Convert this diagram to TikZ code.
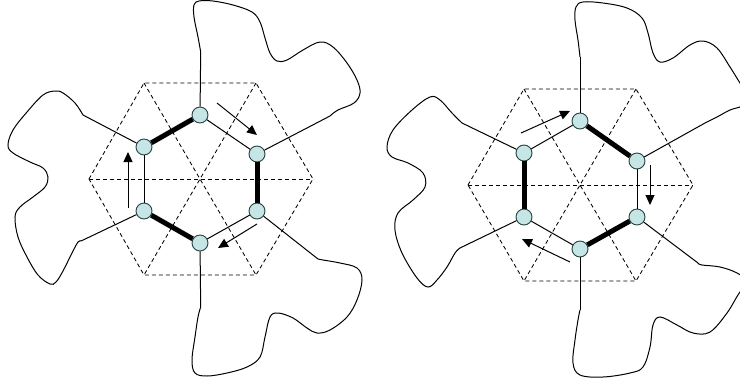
\documentclass[tikz,border=0pt]{standalone}
\usetikzlibrary{arrows.meta}
\definecolor{nodefill}{RGB}{198,230,230}
\definecolor{nodeline}{RGB}{40,65,65}
\begin{document}
\begin{tikzpicture}[x=1pt,y=-1pt,
  site/.style={circle,draw=nodeline,fill=nodefill,line width=0.9pt,minimum size=16pt,inner sep=0pt},
  lattice/.style={line width=0.85pt,dash pattern=on 4pt off 3pt},
  bond/.style={line width=1pt},
  strong/.style={line width=5pt},
  spoke/.style={line width=1pt},
  lobe/.style={line width=1pt},
  move/.style={line width=1pt,-{Triangle[length=10pt,width=9pt]}}]
\useasboundingbox (0,0) rectangle (740,384);
\clip (0,0) rectangle (740,384);

% ---------------- left figure ----------------
\draw[lattice] (89,179) -- (144,83) -- (256,83) -- (313,179) -- (256,275) -- (144,275) -- cycle;
\draw[lattice] (89,179) -- (313,179);
\draw[lattice] (144,83) -- (256,275);
\draw[lattice] (256,83) -- (144,275);

\node[site] (Ltop) at (200,115) {};
\node[site] (Lul)  at (144,147) {};
\node[site] (Lur)  at (257,154) {};
\node[site] (Llr)  at (257,211) {};
\node[site] (Lll)  at (144,211) {};
\node[site] (Lbot) at (200,243) {};

\coordinate (Lst) at (200.7,52);
\coordinate (Lsul) at (83,115);
\coordinate (Lsll) at (81,241);
\coordinate (Lsbot) at (200.7,307);
\coordinate (Lsur) at (330,116);
\coordinate (Lslr) at (318,259);

\draw[spoke] (Ltop) -- (Lst);
\draw[spoke] (Lul) -- (Lsul);
\draw[spoke] (Lll) -- (Lsll);
\draw[spoke] (Lbot) -- (Lsbot);
\draw[spoke] (Lur) -- (Lsur);
\draw[spoke] (Llr) -- (Lslr);

\draw[lobe] plot[smooth,tension=0.6] coordinates {(200.7,52) (198,37) (194,17) (194,5) (199,1) (213,1) (233,5) (252,12) (260,22) (265,38) (270,53) (277,61) (287,60) (303,50) (320,42) (333,47) (347,63) (357,80) (360,93) (354,103) (338,110) (330,116)};
\draw[lobe] plot[smooth,tension=0.6] coordinates {(318,259) (323,260) (340,263) (357,268) (362,280) (357,300) (347,317) (330,330) (317,333) (307,328) (293,318) (278,313) (270,317) (265,337) (260,357) (247,367) (227,373) (207,376) (195,373) (192,360) (195,337) (198,317) (200.7,307)};
\draw[lobe] plot[smooth,tension=0.6] coordinates {(83,115) (75,103) (63,93) (55,91) (43,95) (27,112) (13,130) (8,145) (13,153) (30,162) (43,168) (48,177) (45,187) (33,197) (20,207) (15,217) (18,237) (27,257) (38,275) (50,284) (56,282) (63,271) (72,253) (78,242) (81,241)};

\draw[strong] (Ltop) -- (Lul);
\draw[strong] (Lur) -- (Llr);
\draw[strong] (Lll) -- (Lbot);
\draw[bond] (Ltop) -- (Lur);
\draw[bond] (Llr) -- (Lbot);
\draw[bond] (Lll) -- (Lul);

\coordinate (La1) at (217,103); \coordinate (La2) at (257,135);
\coordinate (Lb1) at (128,208); \coordinate (Lb2) at (128,152);
\coordinate (Lc1) at (257,224); \coordinate (Lc2) at (218,248);
\draw[move] (La1) -- (La2);
\draw[move] (Lb1) -- (Lb2);
\draw[move] (Lc1) -- (Lc2);

% ---------------- right figure ----------------
\draw[lattice] (468,185) -- (524,89) -- (636,89) -- (693,185) -- (636,281) -- (524,281) -- cycle;
\draw[lattice] (468,185) -- (693,185);
\draw[lattice] (524,89) -- (636,281);
\draw[lattice] (636,89) -- (524,281);

\node[site] (Rtop) at (580,121) {};
\node[site] (Rul)  at (524,153) {};
\node[site] (Rur)  at (637,161) {};
\node[site] (Rlr)  at (637,217) {};
\node[site] (Rll)  at (524,217) {};
\node[site] (Rbot) at (580,249) {};

\coordinate (Rst) at (580,57);
\coordinate (Rsul) at (462,123);
\coordinate (Rsll) at (460,248);
\coordinate (Rsbot) at (580,310);
\coordinate (Rsur) at (705,123);
\coordinate (Rslr) at (698,263);

\draw[spoke] (Rtop) -- (Rst);
\draw[spoke] (Rul) -- (Rsul);
\draw[spoke] (Rll) -- (Rsll);
\draw[spoke] (Rbot) -- (Rsbot);
\draw[spoke] (Rur) -- (Rsur);
\draw[spoke] (Rlr) -- (Rslr);

\draw[lobe] plot[smooth,tension=0.6] coordinates {(580,57) (578,40) (575,20) (576,7) (583,2) (603,3) (627,8) (642,18) (648,33) (653,53) (660,62) (673,58) (690,45) (703,41) (717,48) (730,67) (740,83) (750,98) (742,106) (730,110) (717,117) (705,123)};
\draw[lobe] plot[smooth,tension=0.6] coordinates {(698,263) (702,265) (720,267) (737,273) (750,283) (740,292) (727,313) (710,332) (693,333) (677,325) (660,317) (653,325) (650,347) (643,367) (630,373) (603,377) (580,375) (573,363) (575,340) (578,320) (580,310)};
\draw[lobe] plot[smooth,tension=0.6] coordinates {(462,123) (452,113) (440,100) (430,97) (412,110) (393,130) (387,147) (392,157) (408,163) (423,173) (425,187) (413,200) (398,213) (395,230) (402,253) (417,278) (428,287) (437,280) (447,267) (455,253) (460,248)};

\draw[strong] (Rtop) -- (Rur);
\draw[strong] (Rul) -- (Rll);
\draw[strong] (Rbot) -- (Rlr);
\draw[bond] (Rul) -- (Rtop);
\draw[bond] (Rur) -- (Rlr);
\draw[bond] (Rbot) -- (Rll);

\coordinate (Ra1) at (521,133); \coordinate (Ra2) at (570,111);
\coordinate (Rb1) at (650,165); \coordinate (Rb2) at (650,205);
\coordinate (Rc1) at (570,262); \coordinate (Rc2) at (522,239);
\draw[move] (Ra1) -- (Ra2);
\draw[move] (Rb1) -- (Rb2);
\draw[move] (Rc1) -- (Rc2);
\end{tikzpicture}
\end{document}
